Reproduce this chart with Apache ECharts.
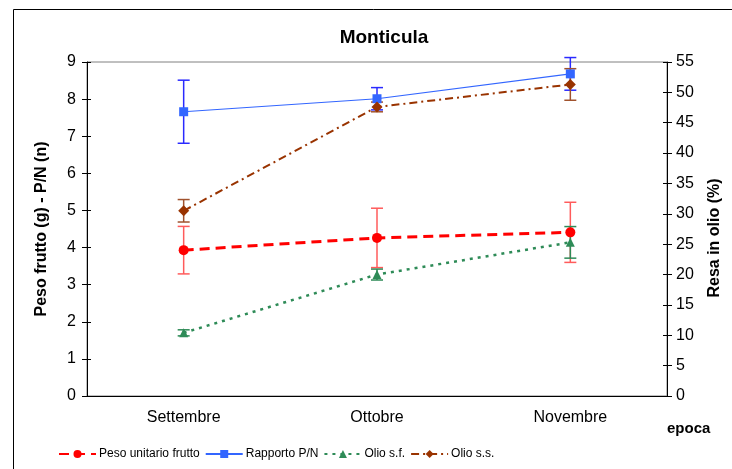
<!DOCTYPE html>
<html>
<head>
<meta charset="utf-8">
<script src="https://cdn.jsdelivr.net/npm/echarts@6/dist/echarts.min.js"></script>
<style>
    html, body { margin: 0; padding: 0; background: #fff; }
    #chart { width: 732px; height: 469px; }
</style>
</head>
<body>
<div id="chart"></div>
<script>
const months = ['Settembre', 'Ottobre', 'Novembre'];

// left axis: g / n
const pesoFrutto = [3.93, 4.26, 4.41];
const pesoFruttoErr = [0.64, 0.80, 0.81];
const rapportoPN = [7.66, 8.01, 8.68];
const rapportoPNErr = [0.85, 0.30, 0.44];

// right axis: %
const olioSF = [10.4, 20.0, 25.3];
const olioSFErr = [0.5, 0.9, 2.6];
const olioSS = [30.5, 47.6, 51.3];
const olioSSErr = [1.85, 0.8, 2.6];

const font = 'Liberation Sans, Arial, sans-serif';

function errorBars(name, values, errs, yAxisIndex, color) {
    return {
        name: name + ' err',
        type: 'custom',
        yAxisIndex: yAxisIndex,
        clip: false,
        silent: true,
        z: 1,
        data: values.map((v, i) => [i, v - errs[i], v + errs[i]]),
        renderItem: function (params, api) {
            const lo = api.coord([api.value(0), api.value(1)]);
            const hi = api.coord([api.value(0), api.value(2)]);
            const half = 6;
            const style = { stroke: color, lineWidth: 1.5 };
            return {
                type: 'group',
                children: [
                    { type: 'line', shape: { x1: lo[0], y1: lo[1], x2: hi[0], y2: hi[1] }, style: style },
                    { type: 'line', shape: { x1: lo[0] - half, y1: lo[1], x2: lo[0] + half, y2: lo[1] }, style: style },
                    { type: 'line', shape: { x1: hi[0] - half, y1: hi[1], x2: hi[0] + half, y2: hi[1] }, style: style }
                ]
            };
        }
    };
}

const chart = echarts.init(document.getElementById('chart'), null, { renderer: 'canvas' });

const tickStyle = { color: '#000', width: 1 };

chart.setOption({
    animation: false,
    backgroundColor: '#fff',
    textStyle: { fontFamily: font },
    title: {
        text: 'Monticula',
        left: 379,
        top: 23,
        textAlign: 'center',
        textStyle: { fontFamily: font, fontSize: 19, fontWeight: 'bold', color: '#000' }
    },
    grid: {
        left: 87,
        right: 65,
        top: 62,
        bottom: 73,
        show: true,
        borderColor: '#808080',
        borderWidth: 1,
        backgroundColor: 'transparent'
    },
    legend: {
        left: 58,
        top: 448,
        padding: 0,
        itemWidth: 37,
        itemHeight: 10,
        itemGap: 5,
        textStyle: { fontFamily: font, fontSize: 12, color: '#000', padding: [0, 0, 0, -2] },
        data: ['Peso unitario frutto', 'Rapporto P/N', 'Olio s.f.', 'Olio s.s.']
    },
    graphic: [
        {
            type: 'rect',
            shape: { x: 13.5, y: 9.5, width: 800, height: 600 },
            style: { fill: 'none', stroke: '#000', lineWidth: 1 },
            z: -1
        },
        {
            type: 'text',
            left: 667,
            top: 421,
            style: { text: 'epoca', font: 'bold 15px ' + font, fill: '#000' }
        }
    ],
    xAxis: [
        {
            type: 'category',
            data: months,
            boundaryGap: true,
            axisLine: { lineStyle: { color: '#000', width: 1 } },
            axisTick: { length: 4, lineStyle: tickStyle },
            axisLabel: { color: '#000', fontSize: 16, fontFamily: font, margin: 14 },
            splitLine: { show: false }
        },
        {
            type: 'category',
            data: months,
            position: 'bottom',
            boundaryGap: true,
            axisLine: { show: false },
            axisTick: { inside: true, length: 4, lineStyle: tickStyle },
            axisLabel: { show: false },
            splitLine: { show: false }
        }
    ],
    yAxis: [
        {
            type: 'value',
            position: 'left',
            min: 0, max: 9, interval: 1,
            name: 'Peso frutto (g) - P/N (n)',
            nameLocation: 'middle',
            nameGap: 37,
            nameTextStyle: { fontFamily: font, fontSize: 16, fontWeight: 'bold', color: '#000' },
            axisLine: { show: true, lineStyle: { color: '#000', width: 1 } },
            axisTick: { show: true, length: 5, lineStyle: tickStyle },
            axisLabel: { color: '#000', fontSize: 16, fontFamily: font, margin: 11 },
            splitLine: { show: false }
        },
        {
            type: 'value',
            position: 'right',
            min: 0, max: 55, interval: 5,
            name: 'Resa in olio (%)',
            nameLocation: 'middle',
            nameGap: 40,
            nameRotate: 90,
            nameTextStyle: { fontFamily: font, fontSize: 16, fontWeight: 'bold', color: '#000', padding: [0, 0, 0, -18] },
            axisLine: { show: true, lineStyle: { color: '#000', width: 1 } },
            axisTick: { show: true, length: 5, lineStyle: tickStyle },
            axisLabel: { color: '#000', fontSize: 16, fontFamily: font, margin: 9 },
            splitLine: { show: false }
        },
        {
            type: 'value',
            position: 'left',
            min: 0, max: 9, interval: 1,
            axisLine: { show: false },
            axisTick: { show: true, inside: true, length: 4, lineStyle: tickStyle },
            axisLabel: { show: false },
            splitLine: { show: false }
        },
        {
            type: 'value',
            position: 'right',
            min: 0, max: 55, interval: 5,
            axisLine: { show: false },
            axisTick: { show: true, inside: true, length: 4, lineStyle: tickStyle },
            axisLabel: { show: false },
            splitLine: { show: false }
        }
    ],
    series: [
        errorBars('Peso unitario frutto', pesoFrutto, pesoFruttoErr, 0, '#ff5b5b'),
        errorBars('Rapporto P/N', rapportoPN, rapportoPNErr, 0, '#2a2aff'),
        errorBars('Olio s.f.', olioSF, olioSFErr, 1, '#2e8b57'),
        errorBars('Olio s.s.', olioSS, olioSSErr, 1, '#a0522d'),
        {
            name: 'Peso unitario frutto',
            type: 'line',
            yAxisIndex: 0,
            data: pesoFrutto,
            symbol: 'circle',
            symbolSize: 10,
            itemStyle: { color: '#ff0000' },
            lineStyle: { color: '#ff0000', width: 3, type: [10, 6] },
            z: 3
        },
        {
            name: 'Rapporto P/N',
            type: 'line',
            yAxisIndex: 0,
            data: rapportoPN,
            symbol: 'rect',
            symbolSize: 9,
            itemStyle: { color: '#3366ff' },
            lineStyle: { color: '#3366ff', width: 1.2, type: 'solid' },
            z: 3
        },
        {
            name: 'Olio s.f.',
            type: 'line',
            yAxisIndex: 1,
            data: olioSF,
            symbol: 'triangle',
            symbolSize: 9,
            itemStyle: { color: '#2e8b57' },
            lineStyle: { color: '#2e8b57', width: 2.5, type: [3, 5] },
            z: 3
        },
        {
            name: 'Olio s.s.',
            type: 'line',
            yAxisIndex: 1,
            data: olioSS,
            symbol: 'diamond',
            symbolSize: 11,
            itemStyle: { color: '#993300' },
            lineStyle: { color: '#993300', width: 2, type: [8, 4, 2, 4] },
            z: 3
        }
    ]
});
</script>
</body>
</html>
